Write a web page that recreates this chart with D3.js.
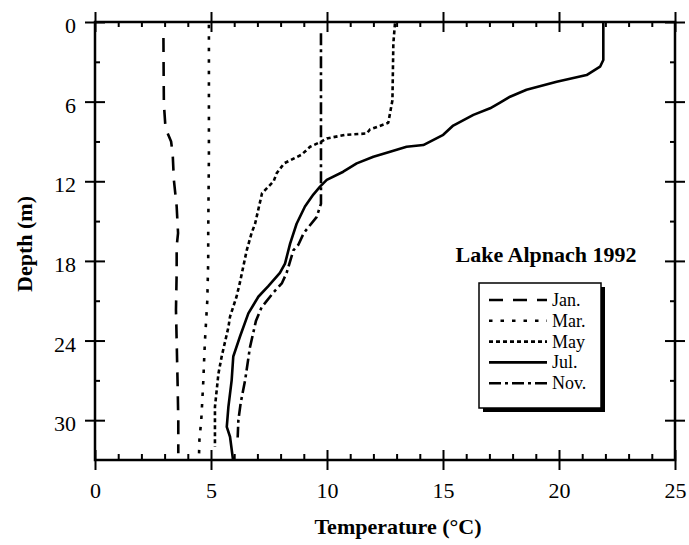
<!DOCTYPE html>
<html>
<head>
<meta charset="utf-8">
<script src="https://cdn.jsdelivr.net/npm/d3@7"></script>
<style>
  body { margin: 0; background: #fff; }
  text { font-family: "Liberation Serif", "Times New Roman", serif; fill: #000; }
</style>
</head>
<body>
<svg id="svgProfile"></svg>
<script>

/// DATA ////////////////////////////////////////////////////////////////////////////////

var months = ["Jan.", "Mar.", "May", "Jul.", "Nov."];
var chartTitle = "Lake Alpnach 1992";

var xTicks = [0, 5, 10, 15, 20, 25];
var yTicks = [0, 6, 12, 18, 24, 30];

// depth (m) / temperature (°C)
var janDepth = [1.2, 4.2, 6.2, 8.0, 9.0, 10.0, 11.9, 13.9, 15.9, 16.9, 18.9, 21.7, 24.0, 27.2, 30.0, 32.5];
var janTemp  = [2.95, 2.96, 2.97, 3.04, 3.28, 3.35, 3.40, 3.52, 3.58, 3.52, 3.52, 3.49, 3.52, 3.56, 3.59, 3.59];

var marDepth = [0.2, 5.0, 10.0, 15.9, 18.0, 21.0, 24.0, 25.2, 27.0, 30.0, 31.5, 32.9];
var marTemp  = [4.91, 4.91, 4.91, 4.88, 4.88, 4.84, 4.74, 4.71, 4.67, 4.58, 4.50, 4.48];

var mayDepth = [0.1, 1.6, 5.9, 7.6, 8.1, 8.4, 8.5, 8.77, 9.0, 9.4, 9.65, 10.0, 10.65, 11.4, 12.0, 12.9, 15.2, 15.9, 17.2, 19.6, 20.7, 22.2, 23.0, 25.2, 26.5, 29.0, 32.0];
var mayTemp  = [12.93, 12.86, 12.82, 12.64, 11.85, 11.71, 10.80, 9.99, 9.77, 9.27, 9.12, 8.90, 8.15, 7.83, 7.70, 7.20, 6.90, 6.75, 6.54, 6.25, 6.10, 5.82, 5.75, 5.46, 5.32, 5.17, 5.17];

var julDepth = [0.0, 2.86, 3.37, 4.0, 4.5, 5.1, 5.63, 6.07, 6.5, 7.0, 7.8, 8.5, 9.27, 9.4, 9.77, 10.15, 10.65, 11.28, 11.9, 12.4, 13.0, 13.9, 15.2, 16.7, 18.2, 18.9, 19.9, 20.7, 21.95, 23.7, 25.2, 27.0, 29.0, 30.5, 31.25, 33.0];
var julTemp  = [21.91, 21.91, 21.77, 21.19, 19.90, 18.60, 17.89, 17.46, 17.03, 16.31, 15.44, 15.01, 14.15, 13.43, 12.72, 12.00, 11.28, 10.70, 9.99, 9.70, 9.41, 9.05, 8.69, 8.41, 8.19, 7.97, 7.47, 7.04, 6.61, 6.25, 5.96, 5.89, 5.75, 5.68, 5.82, 5.95];

var novDepth = [0.85, 11.9, 13.7, 14.7, 15.9, 16.8, 17.2, 18.9, 19.7, 20.4, 21.5, 22.5, 24.5, 27.0, 28.7, 30.0, 31.3];
var novTemp  = [9.74, 9.74, 9.74, 9.55, 9.00, 8.76, 8.55, 8.26, 8.05, 7.68, 7.18, 6.94, 6.68, 6.47, 6.28, 6.18, 6.15];

/// SETUP ///////////////////////////////////////////////////////////////////////////////

var WIDTH = 689, HEIGHT = 545;
var LEFT = 95, TOP = 22, PLOT_W = 580, PLOT_H = 438;

var dashes = ["14,10", "3.5,8", "4,3", null, "12,4,3,4"];

var series = [
    { name: months[0], depth: janDepth, temp: janTemp },
    { name: months[1], depth: marDepth, temp: marTemp },
    { name: months[2], depth: mayDepth, temp: mayTemp },
    { name: months[3], depth: julDepth, temp: julTemp },
    { name: months[4], depth: novDepth, temp: novTemp }
];

var svg = d3.select('#svgProfile')
    .attr('width', WIDTH)
    .attr('height', HEIGHT);

var g = svg.append('g').attr('transform', 'translate(' + LEFT + ',' + TOP + ')');

var x = d3.scaleLinear().domain([0, 25]).range([0, PLOT_W]);
var y = d3.scaleLinear().domain([0, 33]).range([0, PLOT_H]);

/////////////////////////////////////////////////////////////////////////////////////////

function styleAxis(sel) {
    sel.select('.domain').remove();
    sel.selectAll('line').attr('stroke', '#000').attr('stroke-width', 2);
}

function drawAxes() {
    var xMinor = d3.range(0, 26).filter(function (v) { return v % 5; });
    var yMinor = d3.range(3, 33, 6);

    // minor ticks point inwards on all four sides
    g.append('g').attr('transform', 'translate(0,' + PLOT_H + ')')
        .call(d3.axisBottom(x).tickValues(xMinor).tickSize(-6).tickFormat(''))
        .call(styleAxis);
    g.append('g')
        .call(d3.axisTop(x).tickValues(xMinor).tickSize(-5).tickFormat(''))
        .call(styleAxis);
    g.append('g')
        .call(d3.axisLeft(y).tickValues(yMinor).tickSize(-5).tickFormat(''))
        .call(styleAxis);
    g.append('g').attr('transform', 'translate(' + PLOT_W + ',0)')
        .call(d3.axisRight(y).tickValues(yMinor).tickSize(-5).tickFormat(''))
        .call(styleAxis);

    // major ticks cross the frame
    var bottom = g.append('g').attr('transform', 'translate(0,' + PLOT_H + ')')
        .call(d3.axisBottom(x).tickValues(xTicks).tickSize(10))
        .call(styleAxis);
    bottom.selectAll('.tick line').attr('y1', -10).attr('y2', 10);
    bottom.selectAll('.tick text')
        .attr('y', 38).attr('dy', 0)
        .style('font-size', '22px').style('font-family', '"Liberation Serif", serif');

    var top = g.append('g')
        .call(d3.axisTop(x).tickValues(xTicks).tickSize(10).tickFormat(''))
        .call(styleAxis);
    top.selectAll('.tick line').attr('y1', -10).attr('y2', 10);

    var left = g.append('g')
        .call(d3.axisLeft(y).tickValues(yTicks).tickSize(10))
        .call(styleAxis);
    left.selectAll('.tick line').attr('x1', -10).attr('x2', 10);
    left.selectAll('.tick text')
        .attr('x', -19).attr('dy', '0.48em')
        .style('font-size', '22px').style('font-family', '"Liberation Serif", serif');

    var right = g.append('g').attr('transform', 'translate(' + PLOT_W + ',0)')
        .call(d3.axisRight(y).tickValues(yTicks).tickSize(10).tickFormat(''))
        .call(styleAxis);
    right.selectAll('.tick line').attr('x1', -10).attr('x2', 10);

    // frame
    g.append('rect')
        .attr('width', PLOT_W).attr('height', PLOT_H)
        .attr('fill', 'none').attr('stroke', '#000').attr('stroke-width', 2.5);

    // axis titles
    svg.append('text')
        .attr('x', 398).attr('y', 534)
        .attr('text-anchor', 'middle')
        .style('font-size', '22px').style('font-weight', 'bold')
        .text('Temperature (°C)');

    svg.append('text')
        .attr('transform', 'translate(31.5,244) rotate(-90)')
        .attr('text-anchor', 'middle')
        .style('font-size', '22px').style('font-weight', 'bold')
        .text('Depth (m)');
}

function drawProfiles() {
    var line = d3.line()
        .x(function (d) { return x(d[1]); })
        .y(function (d) { return y(d[0]); })
        .curve(d3.curveLinear);

    g.selectAll('path.profile')
        .data(series)
        .enter()
        .append('path')
            .attr('class', 'profile')
            .attr('d', function (s) { return line(d3.zip(s.depth, s.temp)); })
            .attr('fill', 'none')
            .attr('stroke', '#000')
            .attr('stroke-width', 2.6)
            .attr('stroke-linejoin', 'round')
            .attr('stroke-dasharray', function (s, i) { return dashes[i]; });
}

function drawLegend() {
    svg.append('text')
        .attr('x', 546).attr('y', 262)
        .attr('text-anchor', 'middle')
        .style('font-size', '22px').style('font-weight', 'bold')
        .text(chartTitle);

    var lg = svg.append('g').attr('transform', 'translate(479,283)');
    var boxW = 122, boxH = 125;

    // drop shadow
    lg.append('rect')
        .attr('x', 4).attr('y', 4).attr('width', boxW).attr('height', boxH)
        .attr('fill', '#000');
    lg.append('rect')
        .attr('width', boxW).attr('height', boxH)
        .attr('fill', '#fff').attr('stroke', '#000').attr('stroke-width', 1.5);

    var rows = lg.selectAll('g.row')
        .data(series)
        .enter()
        .append('g')
            .attr('class', 'row')
            .attr('transform', function (d, i) { return 'translate(0,' + (23 + i * 20.8) + ')'; });

    rows.append('line')
        .attr('x1', 10).attr('x2', 68)
        .attr('y1', -6).attr('y2', -6)
        .attr('stroke', '#000')
        .attr('stroke-width', 2.6)
        .attr('stroke-dasharray', function (d, i) { return dashes[i]; });

    rows.append('text')
        .attr('x', 73)
        .style('font-size', '18px')
        .text(function (d) { return d.name; });
}

drawAxes();
drawProfiles();
drawLegend();

</script>
</body>
</html>
